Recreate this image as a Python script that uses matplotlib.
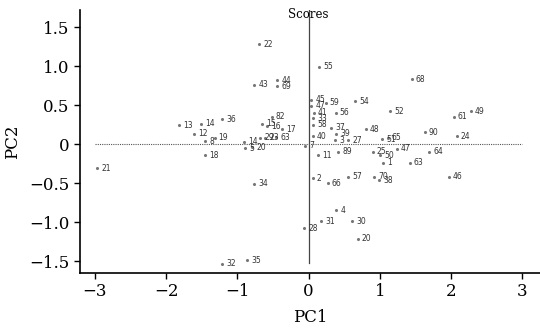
import matplotlib.pyplot as plt

# sample labels and their PC scores
labels = ["22", "55", "68", "43", "44", "69",
          "45", "47", "59", "54", "41", "56", "52", "33", "58", "49", "61",
          "37", "48", "90", "24", "40", "39", "3", "27", "51", "65",
          "13", "14", "36", "82", "15", "16", "17", "12", "8", "19", "14",
          "29", "23", "63", "20", "5", "18", "7", "21", "34",
          "11", "89", "25", "50", "47", "64", "1", "63", "2", "57", "70",
          "38", "66", "46", "4", "31", "28", "30", "20", "32", "35"]
pc1 = [-0.69, 0.15, 1.45, -0.76, -0.44, -0.44,
       0.04, 0.04, 0.24, 0.65, 0.07, 0.38, 1.14, 0.06, 0.06, 2.28, 2.04,
       0.32, 0.80, 1.63, 2.08, 0.06, 0.39, 0.37, 0.56, 1.03, 1.11,
       -1.82, -1.51, -1.21, -0.52, -0.65, -0.58, -0.37, -1.61, -1.45, -1.32, -0.90,
       -0.68, -0.61, -0.45, -0.79, -0.89, -1.46, -0.05, -2.97, -0.76,
       0.13, 0.42, 0.90, 1.00, 1.24, 1.69, 1.04, 1.42, 0.06, 0.55, 0.92,
       0.99, 0.27, 1.97, 0.39, 0.18, -0.06, 0.61, 0.69, -1.21, -0.86]
pc2 = [1.28, 0.99, 0.83, 0.76, 0.82, 0.74,
       0.57, 0.49, 0.53, 0.55, 0.40, 0.40, 0.42, 0.33, 0.25, 0.42, 0.35,
       0.21, 0.19, 0.15, 0.10, 0.10, 0.13, 0.05, 0.05, 0.06, 0.08,
       0.24, 0.26, 0.32, 0.35, 0.26, 0.23, 0.19, 0.13, 0.04, 0.08, 0.03,
       0.08, 0.08, 0.09, -0.04, -0.05, -0.14, -0.02, -0.31, -0.51,
       -0.14, -0.10, -0.10, -0.14, -0.06, -0.10, -0.24, -0.24, -0.44, -0.42, -0.42,
       -0.46, -0.50, -0.42, -0.85, -0.99, -1.08, -0.99, -1.21, -1.53, -1.49]

xticks = [-3, -2, -1, 0, 1, 2, 3]
yticks = [-1.5, -1.0, -0.5, 0, 0.5, 1.0, 1.5]
ytick_labels = ["\u22121.5", "\u22121.0", "\u22120.5", "0", "0.5", "1.0", "1.5"]

plt.rcParams['font.family'] = 'DejaVu Serif'

fig = plt.figure(figsize=(5.4, 3.3), dpi=100)
ax = fig.add_axes([0.148, 0.173, 0.852, 0.797])

# reference lines
ax.plot([0, 0], [-1.52, 1.72], color='#444444', lw=0.9)
ax.plot([-3, 3], [0, 0], color='#555555', lw=0.8, ls=(0, (1, 1)))

ax.scatter(pc1, pc2, s=1.5, color='#777777', zorder=3)
for lab, x, y in zip(labels, pc1, pc2):
    ax.annotate(lab, (x, y), xytext=(3, 0), textcoords='offset points',
                fontsize=5.5, family='DejaVu Sans', color='#333333',
                ha='left', va='center')

ax.text(0, 1.66, 'Scores', ha='center', va='center', fontsize=8.5)

ax.set_xlim(-3.21, 3.25)
ax.set_ylim(-1.65, 1.72)
ax.set_xticks(xticks)
ax.set_xticklabels(["\u22123", "\u22122", "\u22121", "0", "1", "2", "3"])
ax.set_yticks(yticks)
ax.set_yticklabels(ytick_labels)
ax.tick_params(labelsize=12, length=4, width=1)
ax.set_xlabel('PC1', fontsize=12, labelpad=6)
ax.set_ylabel('PC2', fontsize=12, labelpad=6)
ax.spines['top'].set_visible(False)
ax.spines['right'].set_visible(False)
ax.spines['left'].set_linewidth(1.2)
ax.spines['bottom'].set_linewidth(1.2)

fig.savefig('out.png', dpi=100)
